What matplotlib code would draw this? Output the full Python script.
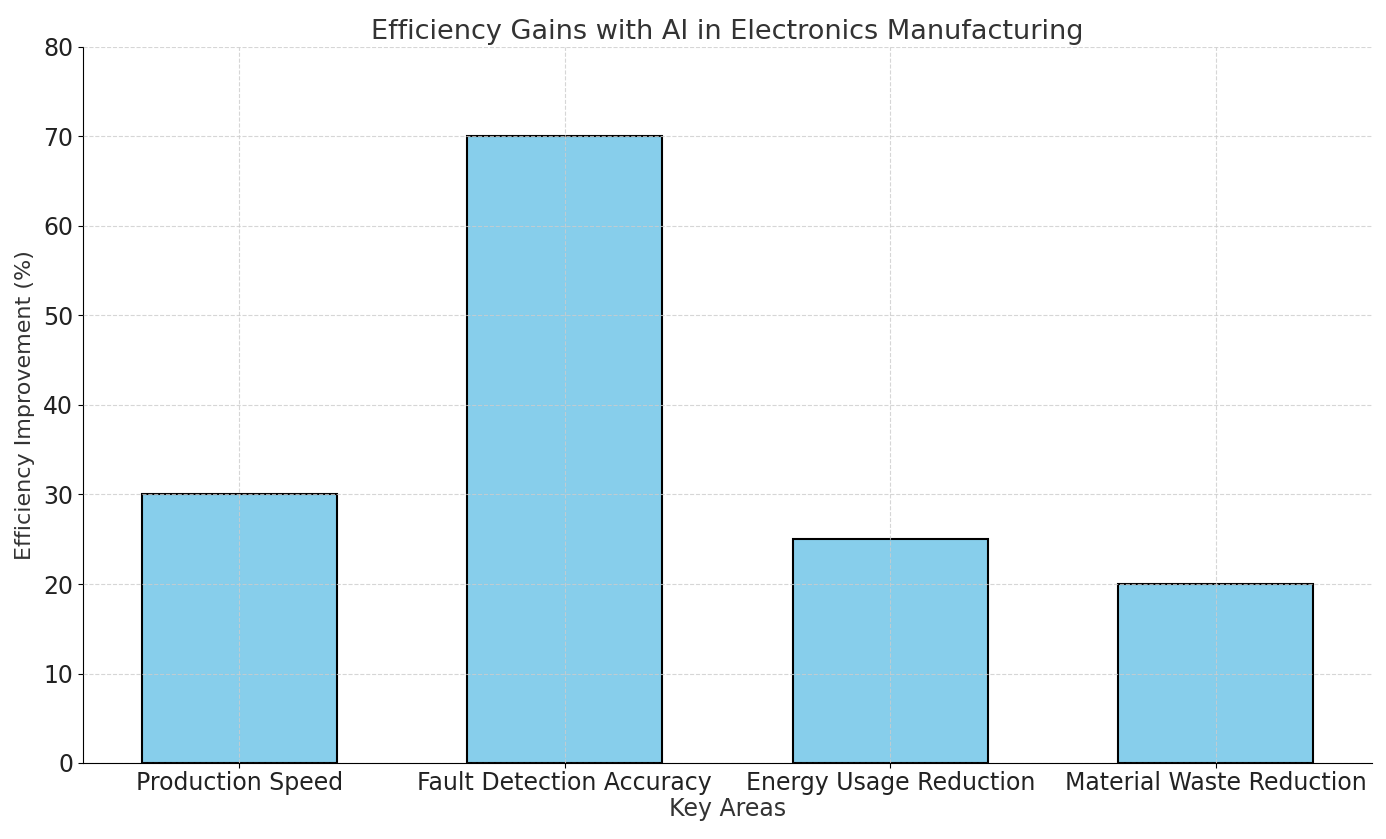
import matplotlib
matplotlib.use("Agg")
import matplotlib.pyplot as plt

# data
areas = ["Production Speed", "Fault Detection Accuracy",
         "Energy Usage Reduction", "Material Waste Reduction"]
gains = [30, 70, 25, 20]

fig = plt.figure(figsize=(13.86, 8.39), dpi=100)
ax = fig.add_axes([83 / 1386, 1 - 763 / 839, (1372 - 83) / 1386, (763 - 47) / 839])

ax.bar(areas, gains, width=0.6, color="skyblue", edgecolor="black", linewidth=1.5)
ax.set_ylim(0, 80)

ax.set_title("Efficiency Gains with AI in Electronics Manufacturing", fontsize=19.5, color="#333333", pad=6)
ax.set_xlabel("Key Areas", fontsize=17, color="#333333", labelpad=2)
ax.set_ylabel("Efficiency Improvement (%)", fontsize=16, color="#333333", labelpad=6)
ax.tick_params(axis="x", labelsize=17, labelcolor="#222222", pad=2)
ax.tick_params(axis="y", labelsize=17, labelcolor="#222222")

ax.grid(True, linestyle="--", color="#cccccc", alpha=0.8)
ax.set_axisbelow(False)
ax.spines["top"].set_visible(False)
ax.spines["right"].set_visible(False)

fig.savefig("out.png", dpi=100)
